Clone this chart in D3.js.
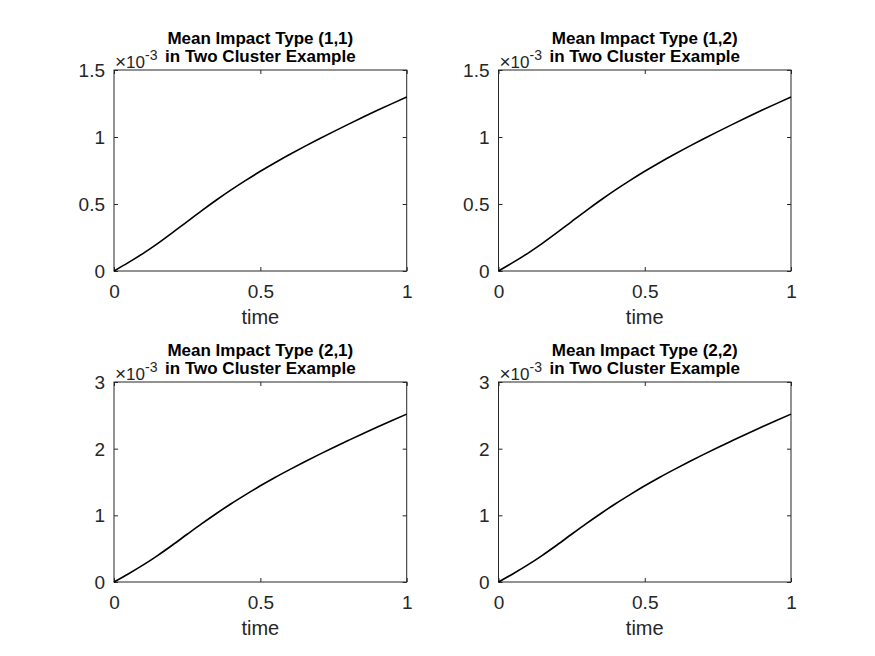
<!DOCTYPE html>
<html>
<head>
<meta charset="utf-8">
<script src="https://cdn.jsdelivr.net/npm/d3@7/dist/d3.min.js"></script>
<style>
  html, body { margin: 0; padding: 0; background: #ffffff; }
  svg { display: block; }
  text { font-family: "Liberation Sans", Arial, Helvetica, sans-serif; }
</style>
</head>
<body>
<svg id="chart" width="875" height="656"></svg>
<script>
// ---- data (values in units of 1e-3) ----
const time = [0, 0.05, 0.1, 0.15, 0.2, 0.25, 0.3, 0.35, 0.4, 0.45, 0.5,
              0.55, 0.6, 0.65, 0.7, 0.75, 0.8, 0.85, 0.9, 0.95, 1.0];
const impact11 = [0, 0.064, 0.132, 0.206, 0.286, 0.369, 0.451, 0.530, 0.605, 0.676, 0.744,
                  0.808, 0.869, 0.928, 0.985, 1.040, 1.094, 1.147, 1.199, 1.249, 1.298];
const impact12 = [0, 0.064, 0.132, 0.206, 0.286, 0.369, 0.451, 0.530, 0.605, 0.676, 0.744,
                  0.808, 0.869, 0.928, 0.985, 1.040, 1.094, 1.147, 1.199, 1.249, 1.298];
const impact21 = [0, 0.124, 0.256, 0.400, 0.555, 0.716, 0.875, 1.028, 1.174, 1.311, 1.443,
                  1.568, 1.686, 1.800, 1.911, 2.018, 2.122, 2.225, 2.326, 2.423, 2.518];
const impact22 = [0, 0.124, 0.256, 0.400, 0.555, 0.716, 0.875, 1.028, 1.174, 1.311, 1.443,
                  1.568, 1.686, 1.800, 1.911, 2.018, 2.122, 2.225, 2.326, 2.423, 2.518];
const titleLine1 = ["Mean Impact Type (1,1)", "Mean Impact Type (1,2)",
                    "Mean Impact Type (2,1)", "Mean Impact Type (2,2)"];
const titleLine2 = "in Two Cluster Example";
const xLabel = "time";
const xTicks = [0, 0.5, 1];
const yTicksTop = [0, 0.5, 1, 1.5];
const yTicksBottom = [0, 1, 2, 3];
const exponentSign = "\u00D7";
const exponentBase = "10";
const exponent = "-3";

// ---- layout ----
const svg = d3.select("#chart");
const cols = [[114, 406.7], [498.5, 791]];
const rows = [[70, 271], [382, 582]];
const panels = [
  { c: 0, r: 0, data: impact11, title: titleLine1[0], yMax: 1.5, yTicks: yTicksTop },
  { c: 1, r: 0, data: impact12, title: titleLine1[1], yMax: 1.5, yTicks: yTicksTop },
  { c: 0, r: 1, data: impact21, title: titleLine1[2], yMax: 3, yTicks: yTicksBottom },
  { c: 1, r: 1, data: impact22, title: titleLine1[3], yMax: 3, yTicks: yTicksBottom }
];
const axisColor = "#262626";
const tickLen = 4;
const tickFont = 19;

panels.forEach(p => {
  const [x0, x1] = cols[p.c];
  const [y0, y1] = rows[p.r];
  const x = d3.scaleLinear().domain([0, 1]).range([x0, x1]);
  const y = d3.scaleLinear().domain([0, p.yMax]).range([y1, y0]);
  const g = svg.append("g");

  // box
  g.append("rect").attr("x", x0).attr("y", y0).attr("width", x1 - x0).attr("height", y1 - y0)
    .attr("fill", "#fff").attr("stroke", axisColor).attr("stroke-width", 1);

  // axes (inward ticks, both sides)
  const fmt = d => d3.format("~g")(d);
  const bottom = g.append("g").attr("transform", `translate(0,${y1})`)
    .call(d3.axisBottom(x).tickValues(xTicks).tickSize(-tickLen).tickFormat(fmt));
  const top = g.append("g").attr("transform", `translate(0,${y0})`)
    .call(d3.axisTop(x).tickValues(xTicks).tickSize(-tickLen).tickFormat(""));
  const left = g.append("g").attr("transform", `translate(${x0},0)`)
    .call(d3.axisLeft(y).tickValues(p.yTicks).tickSize(-tickLen).tickFormat(fmt));
  const right = g.append("g").attr("transform", `translate(${x1},0)`)
    .call(d3.axisRight(y).tickValues(p.yTicks).tickSize(-tickLen).tickFormat(""));
  [bottom, top, left, right].forEach(a => {
    a.select(".domain").remove();
    a.selectAll("line").attr("stroke", axisColor).attr("stroke-width", 1);
  });
  bottom.selectAll("text").attr("y", 0).attr("dy", 0)
    .attr("transform", "translate(0,26.5)")
    .attr("font-size", tickFont).attr("fill", axisColor).attr("font-family", null);
  left.selectAll("text").attr("x", -9).attr("dy", "0.35em")
    .attr("font-size", tickFont).attr("fill", axisColor).attr("font-family", null);

  // curve
  const line = d3.line()
    .x((d, i) => x(time[i]))
    .y(d => y(d))
    .curve(d3.curveMonotoneX);
  g.append("path").datum(p.data).attr("d", line)
    .attr("fill", "none").attr("stroke", "#000").attr("stroke-width", 1.6);

  // x label
  g.append("text").attr("x", (x0 + x1) / 2).attr("y", y1 + 52.5)
    .attr("text-anchor", "middle").attr("font-size", 20).attr("fill", axisColor)
    .text(xLabel);

  // exponent label
  const ex = g.append("text").attr("x", x0 + 1).attr("y", y0 - 2.5)
    .attr("font-size", 17).attr("fill", axisColor);
  ex.append("tspan").attr("font-size", 19).text(exponentSign);
  ex.append("tspan").text(exponentBase);
  ex.append("tspan").attr("dy", -8).attr("font-size", 14).text(exponent);

  // title
  const cx = (x0 + x1) / 2;
  g.append("text").attr("x", cx).attr("y", y0 - 26.5)
    .attr("text-anchor", "middle").attr("font-size", 17).attr("font-weight", "bold")
    .attr("fill", "#000").text(p.title);
  g.append("text").attr("x", cx).attr("y", y0 - 8)
    .attr("text-anchor", "middle").attr("font-size", 17).attr("font-weight", "bold")
    .attr("fill", "#000").text(titleLine2);
});
</script>
</body>
</html>
